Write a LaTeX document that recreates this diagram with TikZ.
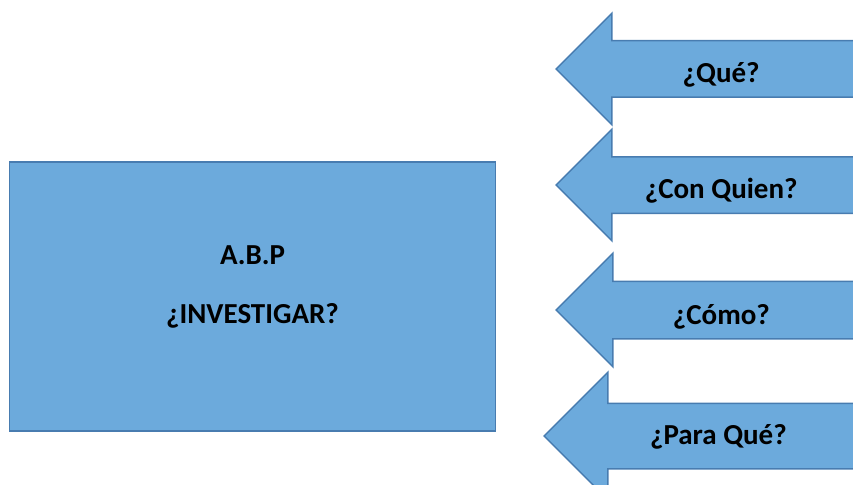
\documentclass[tikz,border=0pt]{standalone}
\usepackage{fontspec}
\setmainfont{Carlito}
\usetikzlibrary{shapes.arrows,positioning}

\definecolor{boxfill}{RGB}{108,170,220}
\definecolor{boxline}{RGB}{72,124,176}

\tikzset{
  box/.style={draw=boxline, fill=boxfill, line width=1.5pt},
  lbl/.style={font=\bfseries\fontsize{29}{35}\selectfont},
  leftarrow/.style={box, lbl, single arrow, shape border rotate=180,
    single arrow tip angle=90, inner sep=0pt, anchor=tip}
}

\begin{document}
\begin{tikzpicture}[x=1pt,y=-1pt]
  \useasboundingbox (0,0) rectangle (853,484);
  \clip (0,0) rectangle (853,484);

  \node [box, minimum width=486pt, minimum height=269pt] (abp) at (252.5,296.5) {};
  \node [lbl, align=center] (abptext) at ([yshift=10pt]abp.center) {A.B.P\\[24pt]¿INVESTIGAR?};

  \node [leftarrow, minimum height=302pt, single arrow head extend=27.5pt,
    text height=41pt, text depth=14pt] (que) at (555,69) {¿Qué?};
  \node [leftarrow, minimum height=302pt, single arrow head extend=27.5pt,
    text height=41pt, text depth=14pt] (conquien) at (555,185) {¿Con Quien?};
  \node [leftarrow, minimum height=302pt, single arrow head extend=28pt,
    text height=42pt, text depth=14pt] (como) at (555,310) {¿Cómo?};
  \node [leftarrow, minimum height=316pt, single arrow head extend=31pt,
    text height=40pt, text depth=24pt] (paraque) at (543,436) {¿Para Qué?};
\end{tikzpicture}
\end{document}
